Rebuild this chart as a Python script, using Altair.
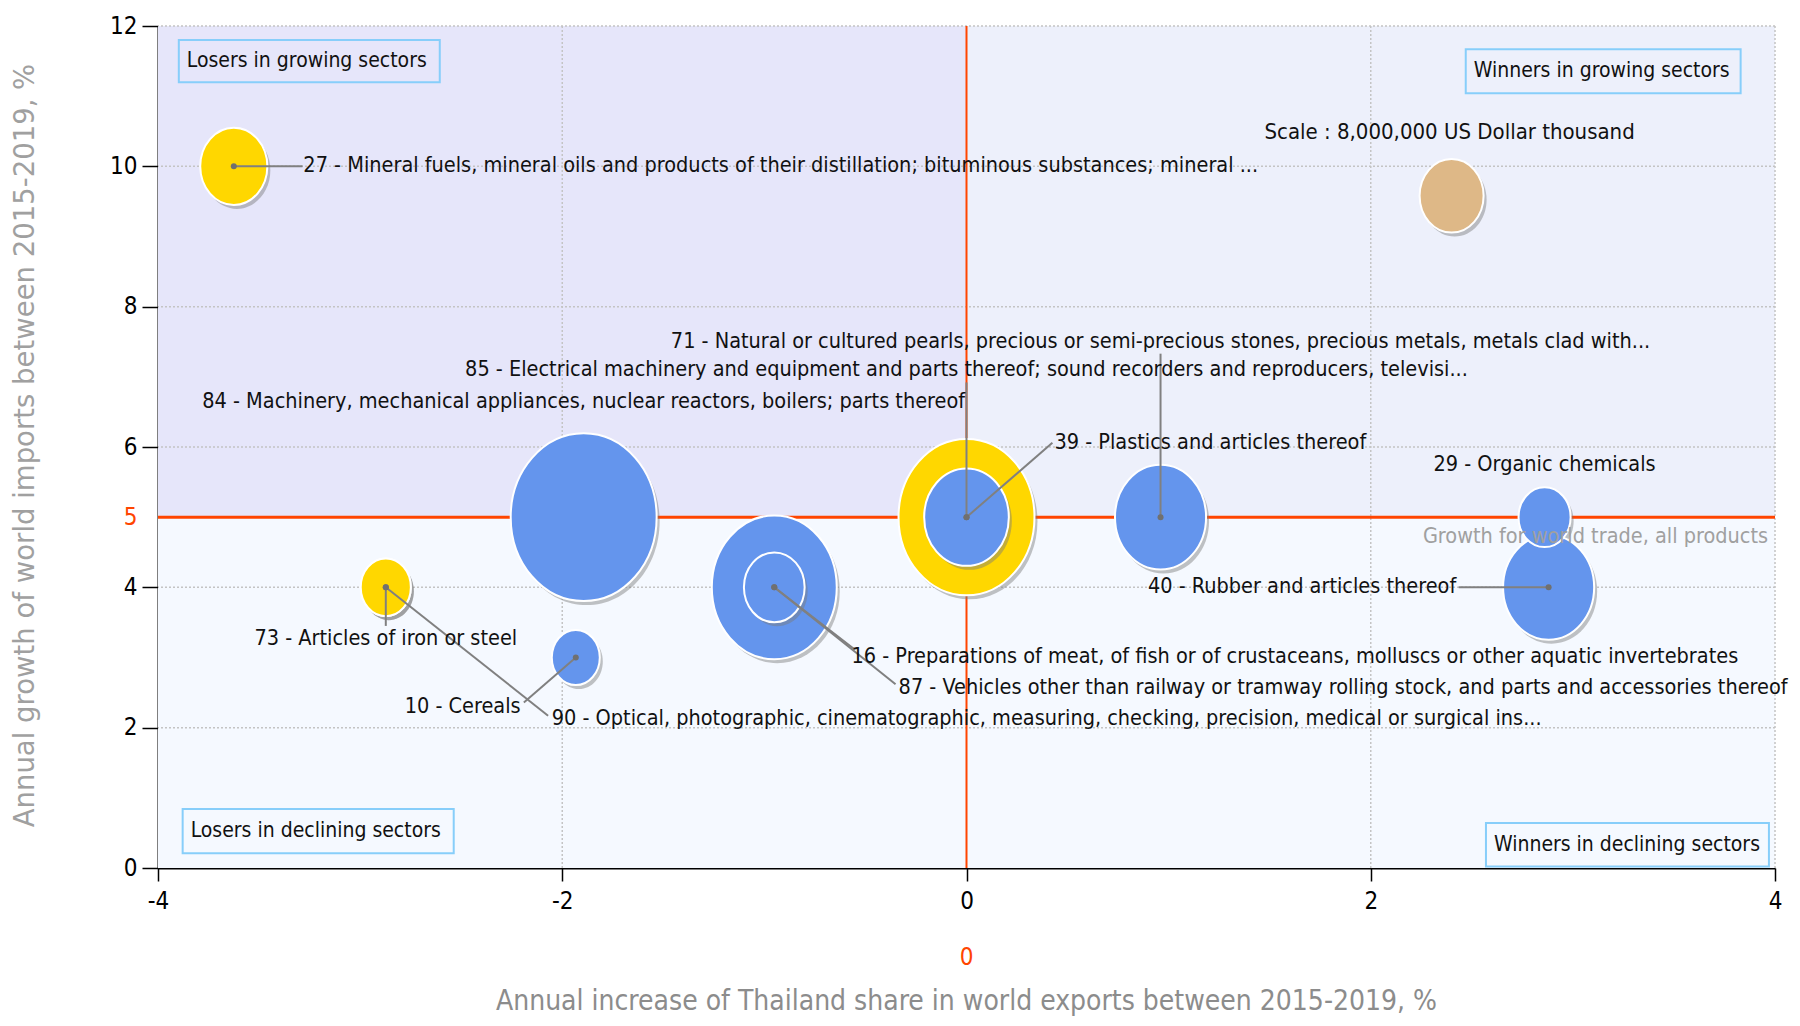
import altair as alt
import pandas as pd

# ---------------- data ----------------
codes = ["27", "84", "85", "39", "71", "87", "16", "29", "40", "90", "73", "10"]
names = [
    "27 - Mineral fuels, mineral oils and products of their distillation; bituminous substances; mineral ...",
    "84 - Machinery, mechanical appliances, nuclear reactors, boilers; parts thereof",
    "85 - Electrical machinery and equipment and parts thereof; sound recorders and reproducers, televisi...",
    "39 - Plastics and articles thereof",
    "71 - Natural or cultured pearls, precious or semi-precious stones, precious metals, metals clad with...",
    "87 - Vehicles other than railway or tramway rolling stock, and parts and accessories thereof",
    "16 - Preparations of meat, of fish or of crustaceans, molluscs or other aquatic invertebrates",
    "29 - Organic chemicals",
    "40 - Rubber and articles thereof",
    "90 - Optical, photographic, cinematographic, measuring, checking, precision, medical or surgical ins...",
    "73 - Articles of iron or steel",
    "10 - Cereals",
]
# Annual increase of Thailand share in world exports 2015-2019, %
share_growth = [-3.625, -1.894, 0.0, 0.0, 0.96, -0.951, -0.951, 2.86, 2.88, -2.873, -2.873, -1.933]
# Annual growth of world imports 2015-2019, %
import_growth = [10.0, 5.0, 5.0, 5.0, 5.0, 4.0, 4.0, 5.0, 4.0, 4.0, 4.0, 3.0]
# Thailand exports, US Dollar thousand (bubble size)
export_value = [8.8e6, 41.6e6, 36.1e6, 14.0e6, 16.2e6, 30.5e6, 7.2e6, 5.3e6, 16.2e6, 4.9e6, 4.9e6, 4.5e6]
bubble_group = ["A", "B", "A", "B", "B", "B", "B", "B", "B", "A", "A", "B"]

scale_value = 8.0e6
scale_text = "Scale : 8,000,000 US Dollar thousand"
world_growth = 5.0
share_reference = 0.0

x_ticks = [-4, -2, 0, 2, 4]
y_ticks = [0, 2, 4, 5, 6, 8, 10, 12]

quadrant_names = ["Losers in growing sectors", "Winners in growing sectors",
                  "Losers in declining sectors", "Winners in declining sectors"]

# ---------------- annotation layout (data units) ----------------
label_x = [-3.281, -1.894, 0.0, 0.435, 0.96, -0.336, -0.569, 2.86, 2.423, -2.052, -2.873, -2.206]
label_y = [10.0, 6.64, 7.10, 6.06, 7.50, 2.57, 3.01, 5.74, 4.0, 2.12, 3.26, 2.29]
label_align = ["left", "center", "center", "left", "center", "left", "left", "center",
               "right", "left", "center", "right"]
leader_x = [-3.285, None, 0.0, 0.425, 0.96, -0.351, -0.556, None, 2.435, -2.07, -2.873, -2.19]
leader_y = [10.0, None, 6.92, 6.06, 7.33, 2.62, 3.12, None, 4.0, 2.17, 3.45, 2.36]

scale_bubble_x, scale_bubble_y = 2.40, 9.58
scale_text_x, scale_text_y = 2.39, 10.49
growth_text_x, growth_text_y = 3.966, 4.72

box_x1 = [-3.897, 2.47, -3.878, 2.57]
box_x2 = [-2.606, 3.83, -2.537, 3.97]
box_y1 = [11.20, 11.04, 0.21, 0.02]
box_y2 = [11.80, 11.67, 0.84, 0.64]

# ---------------- styling ----------------
NARROW = "DejaVu Sans Condensed, sans-serif"
ELLIPSE = "M0,-1.15A1,1.15,0,1,1,0,1.15A1,1.15,0,1,1,0,-1.15Z"
ORANGE = "#FF4500"
W, H = 1617, 842
LBL = 21.5

bub = pd.DataFrame({
    "code": codes, "name": names, "x": share_growth, "y": import_growth,
    "value": export_value, "group": bubble_group,
    "lx": label_x, "ly": label_y, "align": label_align,
    "ex": leader_x, "ey": leader_y,
})
# a bubble sitting inside a larger one at the same spot is drawn in a second tier
bub["tier"] = [
    int(any((bub.x[j] == bub.x[i]) and (bub.y[j] == bub.y[i]) and (bub.value[j] > bub.value[i])
            for j in range(len(bub))))
    for i in range(len(bub))
]
scale_df = pd.DataFrame({"x": [scale_bubble_x], "y": [scale_bubble_y], "value": [scale_value],
                         "group": ["Scale"], "tier": [0]})
allb = pd.concat([bub, scale_df], ignore_index=True)

xs = alt.Scale(domain=[-4, 4], nice=False, zero=False)
ys = alt.Scale(domain=[0, 12], nice=False, zero=False)
size_scale = alt.Scale(type="linear", domain=[0, scale_value], range=[0, 64 * 64])
color_scale = alt.Scale(domain=["A", "B", "Scale"], range=["#FFD700", "#6495ED", "#DEB887"])

tick_label_expr = "datum.value < 0 ? '-' + abs(datum.value) : '' + datum.value"

x_axis = alt.Axis(values=x_ticks, grid=False, domainColor="black", domainWidth=2,
                  tickColor="black", tickWidth=1.5, tickSize=13, labelFont=NARROW,
                  labelFontSize=24, labelColor="black", labelPadding=8, labelFlush=False,
                  labelOverlap=False, labelExpr=tick_label_expr,
                  title="Annual increase of Thailand share in world exports between 2015-2019, %",
                  titleFont=NARROW, titleFontSize=28, titleFontWeight="normal", titleColor="#8c8c8c",
                  titleX=808, titleY=133, titleAlign="center", titleBaseline="middle")
y_axis = alt.Axis(values=y_ticks, grid=False, domainColor="black", domainWidth=2,
                  tickColor={"condition": {"test": "datum.value === 5", "value": "transparent"},
                             "value": "black"},
                  tickWidth=1.5, tickSize=16, labelFont=NARROW, labelFontSize=24,
                  labelColor={"condition": {"test": "datum.value === 5", "value": ORANGE},
                              "value": "black"},
                  labelPadding=5, labelOverlap=False, labelExpr=tick_label_expr,
                  title="Annual growth of world imports between 2015-2019, %",
                  titleFont="DejaVu Sans", titleFontSize=27.5, titleFontWeight="normal",
                  titleColor="#a0a0a0", titleX=-133, titleY=419, titleAngle=270,
                  titleAlign="center", titleBaseline="middle")

# quadrant backgrounds
quad = pd.DataFrame({"x1": [-4, 0, -4], "x2": [0, 4, 4], "y1": [world_growth, world_growth, 0],
                     "y2": [12, 12, world_growth], "q": ["ul", "ur", "low"]})
bg = alt.Chart(quad).mark_rect(strokeWidth=0).encode(
    x=alt.X("x1:Q", scale=xs, axis=x_axis), x2="x2:Q",
    y=alt.Y("y1:Q", scale=ys, axis=y_axis), y2="y2:Q",
    color=alt.Color("q:N", scale=alt.Scale(domain=["ul", "ur", "low"],
                                           range=["#E6E6FA", "#EDF0FB", "#F5F9FF"]), legend=None),
)

grid_x = alt.Chart(pd.DataFrame({"v": [t for t in x_ticks if t not in (-4, 0)]})).mark_rule(
    color="#c4c4c4", strokeDash=[2, 2], strokeWidth=1.5).encode(x=alt.X("v:Q", scale=xs))
grid_y = alt.Chart(pd.DataFrame({"v": [t for t in y_ticks if t not in (0, 5)]})).mark_rule(
    color="#c4c4c4", strokeDash=[2, 2], strokeWidth=1.5).encode(y=alt.Y("v:Q", scale=ys))

ref_h = alt.Chart(pd.DataFrame({"v": [world_growth]})).mark_rule(color=ORANGE, strokeWidth=3).encode(
    y=alt.Y("v:Q", scale=ys))
ref_v = alt.Chart(pd.DataFrame({"v": [share_reference]})).mark_rule(color=ORANGE, strokeWidth=2).encode(
    x=alt.X("v:Q", scale=xs))

boxes = pd.DataFrame({"name": quadrant_names, "x1": box_x1, "x2": box_x2, "y1": box_y1, "y2": box_y2})
box_rect = alt.Chart(boxes).mark_rect(fillOpacity=0, stroke="#87CEFA", strokeWidth=2).encode(
    x=alt.X("x1:Q", scale=xs), x2="x2:Q", y=alt.Y("y1:Q", scale=ys), y2="y2:Q")
box_text = alt.Chart(boxes).transform_calculate(ym="(datum.y1 + datum.y2) / 2").mark_text(
    align="left", baseline="middle", dx=8, font=NARROW, fontSize=21, color="#111111").encode(
    x=alt.X("x1:Q", scale=xs), y=alt.Y("ym:Q", scale=ys), text="name:N")


def bubble_layer(tier, shadow):
    base = alt.Chart(allb).transform_filter(f"datum.tier == {tier}")
    if shadow:
        m = base.mark_point(shape=ELLIPSE, filled=True, color="#7a7a7a", opacity=0.45,
                            xOffset=3, yOffset=4, strokeWidth=0)
        enc = {}
    else:
        m = base.mark_point(shape=ELLIPSE, filled=True, opacity=1, stroke="white", strokeWidth=2)
        enc = {"color": alt.Color("group:N", scale=color_scale, legend=None)}
    return m.encode(
        x=alt.X("x:Q", scale=xs), y=alt.Y("y:Q", scale=ys),
        size=alt.Size("value:Q", scale=size_scale, legend=None),
        order=alt.Order("value:Q", sort="descending"), **enc)


leaders = alt.Chart(bub).transform_filter("isValid(datum.ex)").mark_rule(
    color="#808080", strokeWidth=2).encode(
    x=alt.X("x:Q", scale=xs), y=alt.Y("y:Q", scale=ys), x2="ex:Q", y2="ey:Q")
dots = alt.Chart(bub).transform_filter("isValid(datum.ex)").mark_point(
    shape="circle", filled=True, size=36, color="#707070", opacity=1).encode(
    x=alt.X("x:Q", scale=xs), y=alt.Y("y:Q", scale=ys))


def label_layer(al):
    return alt.Chart(bub).transform_filter(f"datum.align == '{al}'").mark_text(
        align=al, baseline="middle", font=NARROW, fontSize=LBL, color="#111111").encode(
        x=alt.X("lx:Q", scale=xs), y=alt.Y("ly:Q", scale=ys), text="name:N")


scale_lbl = alt.Chart(pd.DataFrame({"x": [scale_text_x], "y": [scale_text_y], "t": [scale_text]})).mark_text(
    align="center", baseline="middle", font=NARROW, fontSize=22, color="#111111").encode(
    x=alt.X("x:Q", scale=xs), y=alt.Y("y:Q", scale=ys), text="t:N")
growth_lbl = alt.Chart(pd.DataFrame({"x": [growth_text_x], "y": [growth_text_y],
                                     "t": ["Growth for world trade, all products"]})).mark_text(
    align="right", baseline="middle", font=NARROW, fontSize=21.5, color="#a0a0a0").encode(
    x=alt.X("x:Q", scale=xs), y=alt.Y("y:Q", scale=ys), text="t:N")
zero_lbl = alt.Chart(pd.DataFrame({"x": [share_reference], "y": [0.0], "t": ["0"]})).mark_text(
    align="center", baseline="middle", dy=90, font=NARROW, fontSize=24, color=ORANGE).encode(
    x=alt.X("x:Q", scale=xs), y=alt.Y("y:Q", scale=ys), text="t:N")

chart = alt.layer(
    bg, grid_x, grid_y, ref_h, ref_v, box_rect, box_text,
    bubble_layer(0, True), bubble_layer(0, False), bubble_layer(1, True), bubble_layer(1, False),
    leaders, dots,
    label_layer("left"), label_layer("center"), label_layer("right"),
    scale_lbl, growth_lbl, zero_lbl,
).resolve_scale(color="independent").properties(
    width=W, height=H,
    autosize=alt.AutoSizeParams(type="none"),
    padding={"left": 150, "top": 18, "right": 17, "bottom": 150},
).configure_view(stroke=None)

chart.save("out.html", embed_options={"renderer": "svg", "actions": False})
